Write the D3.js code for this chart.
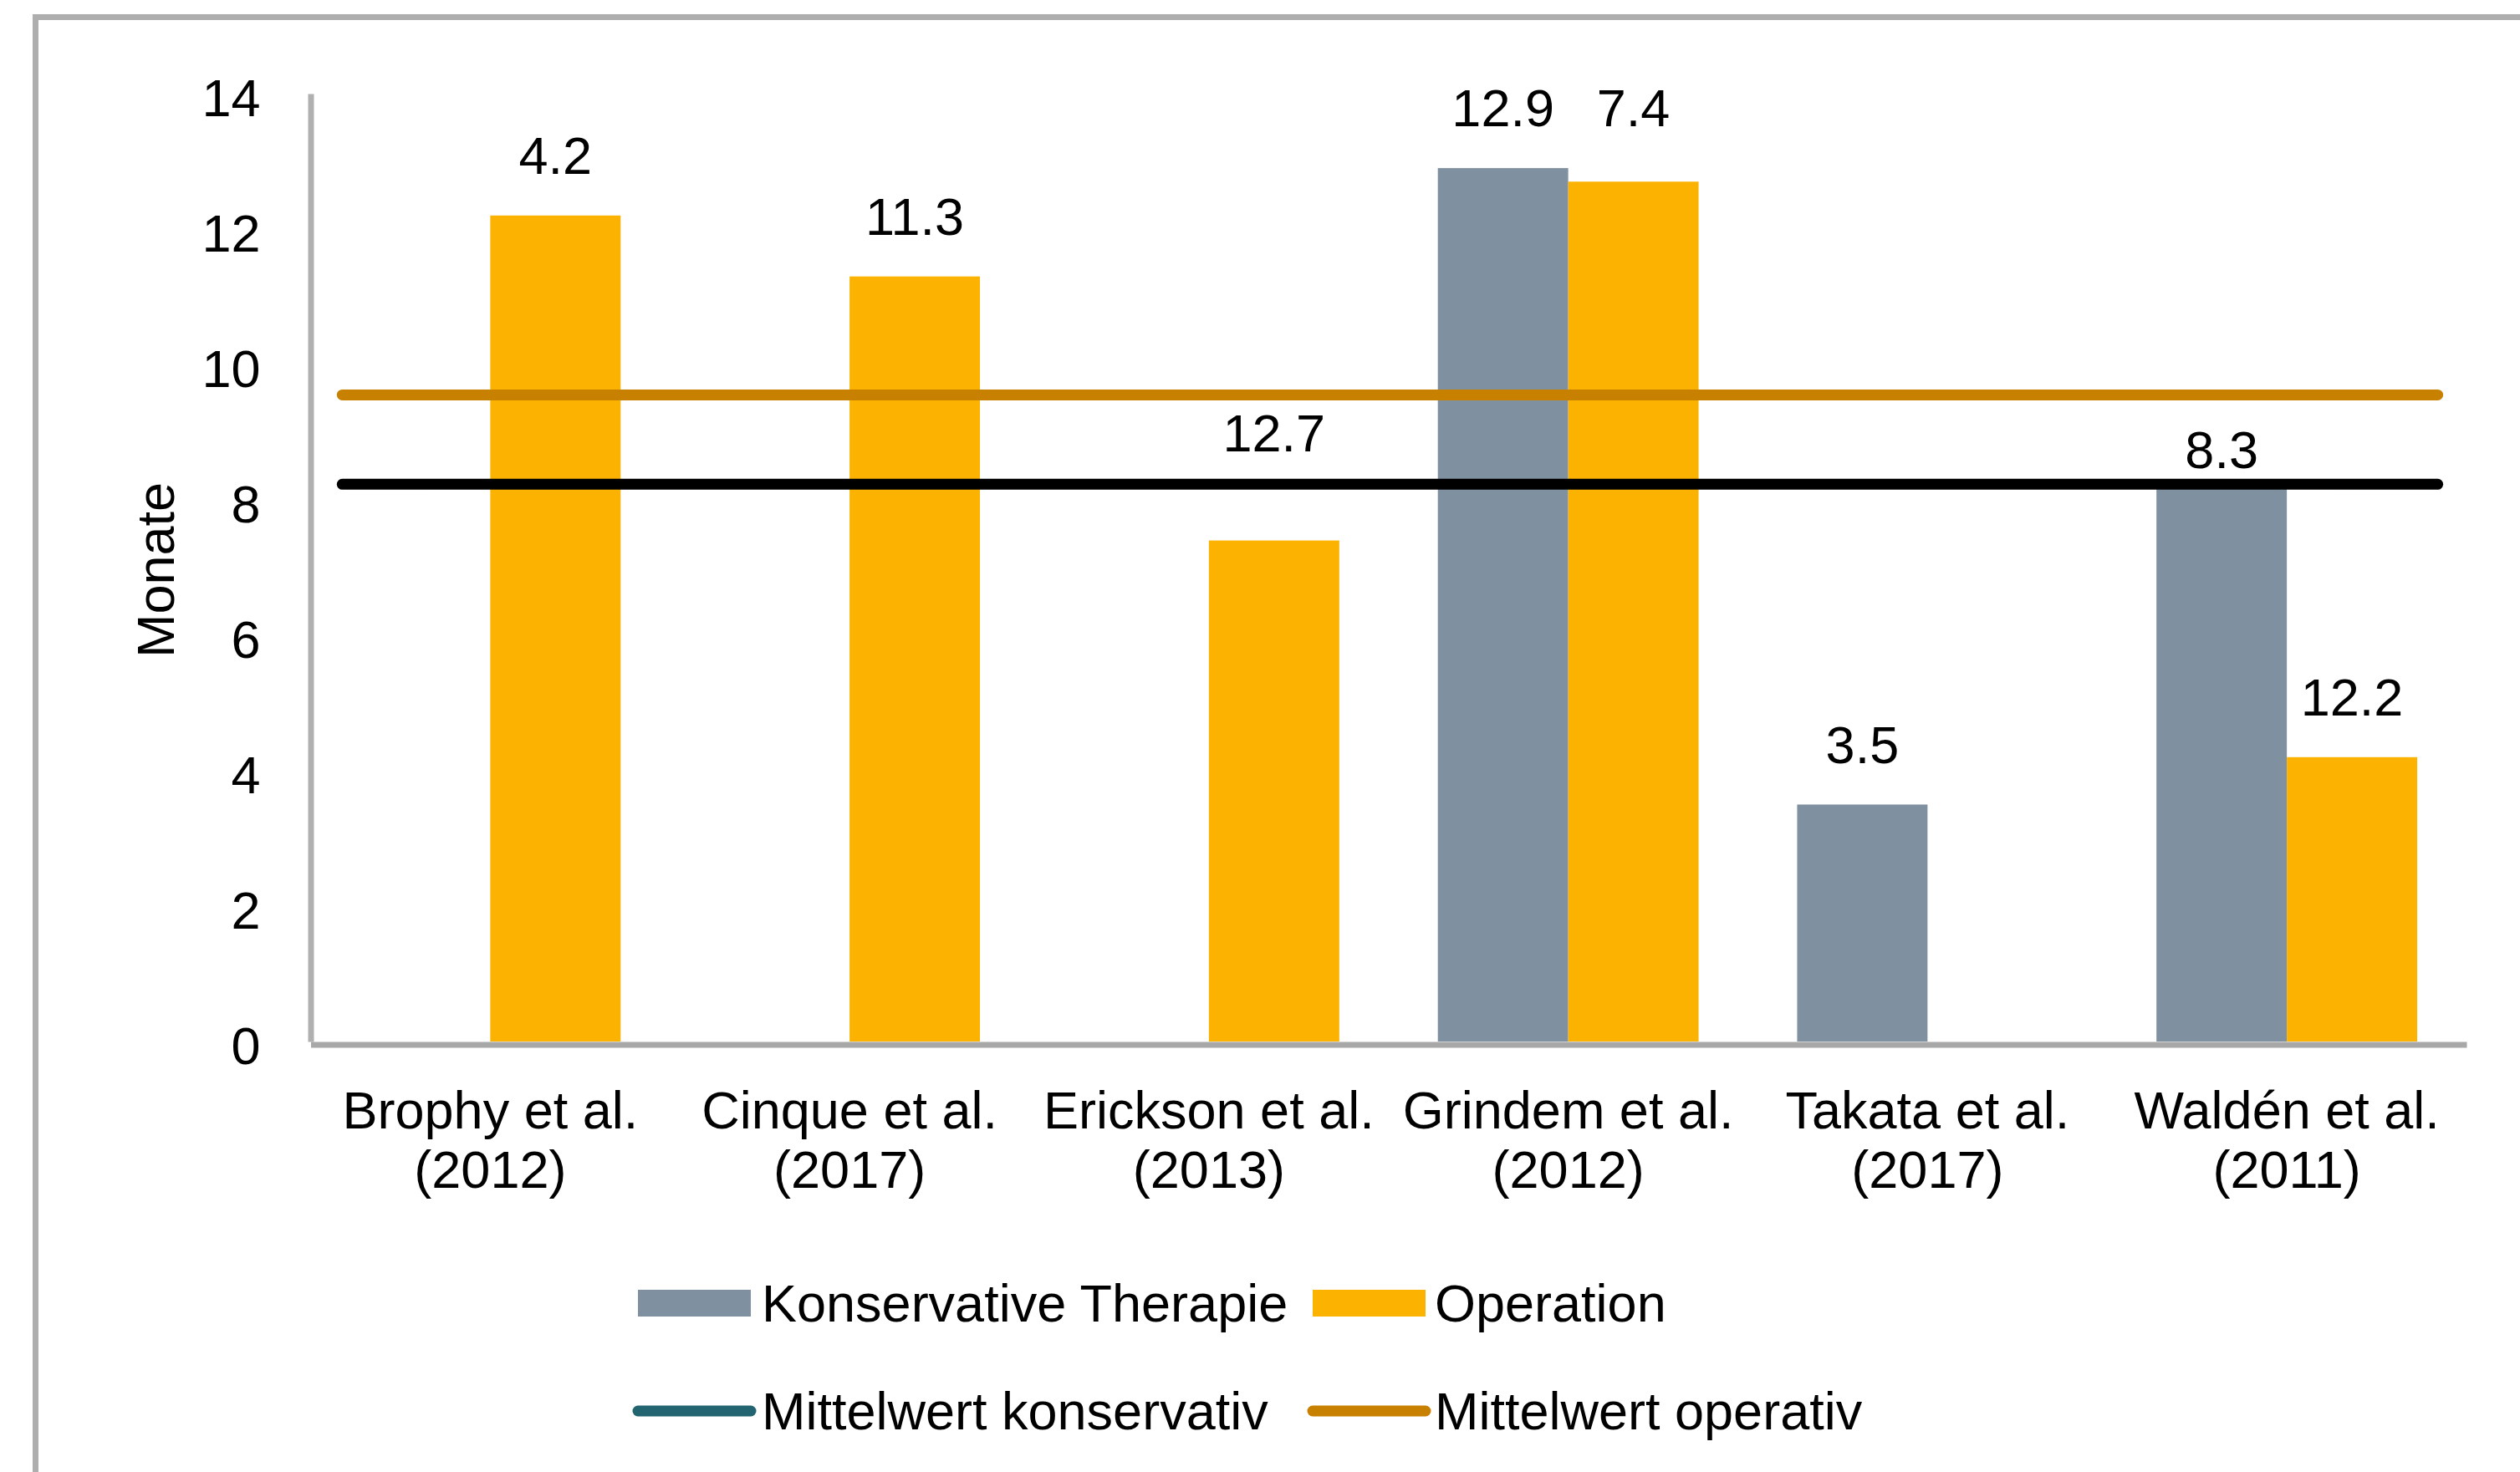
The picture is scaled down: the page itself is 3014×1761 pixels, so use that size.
<!DOCTYPE html>
<html><head><meta charset="utf-8">
<script src="https://cdn.jsdelivr.net/npm/d3@7/dist/d3.min.js"></script>
<style>
body{margin:0;background:#fff;}
svg{display:block;}
text{font-family:"Liberation Sans",Arial,sans-serif;fill:#000;}
</style>
</head><body><svg id="c" width="3014" height="1761"></svg>
<script>
// ---- data ----
const categories = [["Brophy et al.","(2012)"],["Cinque et al.","(2017)"],["Erickson et al.","(2013)"],["Grindem et al.","(2012)"],["Takata et al.","(2017)"],["Waldén et al.","(2011)"]];
const konservativ = [null,null,null,12.9,3.5,8.3];
const operation   = [12.2,11.3,7.4,12.7,null,4.2];
// data labels as printed in the picture
const konsLabels = ["","","","12.9","3.5","8.3"];
const opLabels   = ["4.2","11.3","12.7","7.4","","12.2"];
// value at which each label is anchored (labels moved manually in original)
const konsLabelAnchor = [null,null,null,12.9,3.5,7.85];
const opLabelAnchor   = [12.2,11.3,8.1,12.9,null,4.2];
const meanKonservativ = 8.23;
const meanOperativ = 9.55;
const yTicks = [0,2,4,6,8,10,12,14];
const seriesNames = ["Konservative Therapie","Operation"];
const lineNames = ["Mittelwert konservativ","Mittelwert operativ"];
const yTitle = "Monate";

// ---- styles ----
const colKons = "#7F90A0", colOp = "#FBB200", colMeanOp = "#C88000", colMeanKons = "#000000", colLegKons = "#22646F";
const FS = 63;

const svg = d3.select("#c");
// outer border
svg.append("rect").attr("x",42.5).attr("y",20.5).attr("width",3100).attr("height",1900)
  .attr("fill","none").attr("stroke","#AEAEAE").attr("stroke-width",7);

const L = 371.5, R = 2950, T = 112, B = 1246;
const x = d3.scaleBand().domain(d3.range(categories.length)).range([L,R]).padding(0);
const xs = d3.scaleBand().domain(["k","o"]).range([0,x.bandwidth()]).paddingInner(0).paddingOuter(0.378);
const y = d3.scaleLinear().domain([0,14]).range([B,T]);

// bars
const g = svg.append("g");
const rows = d3.range(categories.length);
g.selectAll(".bk").data(rows.filter(i=>konservativ[i]!=null)).join("rect")
  .attr("x",i=>x(i)+xs("k")).attr("width",xs.bandwidth())
  .attr("y",i=>y(konservativ[i])).attr("height",i=>y(0)-y(konservativ[i])).attr("fill",colKons);
g.selectAll(".bo").data(rows.filter(i=>operation[i]!=null)).join("rect")
  .attr("x",i=>x(i)+xs("o")).attr("width",xs.bandwidth())
  .attr("y",i=>y(operation[i])).attr("height",i=>y(0)-y(operation[i])).attr("fill",colOp);

// axes
const yAxis = d3.axisLeft(y).tickValues(yTicks).tickSize(0).tickSizeOuter(0).tickPadding(60).tickFormat(d3.format("d"));
const ya = svg.append("g").attr("transform",`translate(${L},0)`).call(yAxis);
ya.select(".domain").attr("stroke","#B0B0B0").attr("stroke-width",7);
ya.selectAll("text").attr("font-size",FS).attr("dy","0.42em").attr("font-family","Liberation Sans, Arial, sans-serif").attr("fill","#000");

const xAxis = d3.axisBottom(x).tickSize(0).tickSizeOuter(0).tickFormat(()=> "");
const xa = svg.append("g").attr("transform",`translate(0,${B+3.5})`).call(xAxis);
xa.select(".domain").attr("stroke","#A8A8A8").attr("stroke-width",7);
xa.selectAll(".tick text").remove();
xa.selectAll(".tick").append("text").attr("text-anchor","middle").attr("font-size",FS)
  .attr("font-family","Liberation Sans, Arial, sans-serif").attr("fill","#000")
  .each(function(i){
    const t = d3.select(this);
    t.append("tspan").attr("x",0).attr("y",100).text(categories[i][0]);
    t.append("tspan").attr("x",0).attr("y",171).text(categories[i][1]);
  });

// mean lines
const lx0 = L + x.bandwidth()*0.088, lx1 = R - x.bandwidth()*0.08;
svg.append("line").attr("x1",lx0).attr("x2",lx1).attr("y1",y(meanOperativ)).attr("y2",y(meanOperativ))
  .attr("stroke",colMeanOp).attr("stroke-width",13).attr("stroke-linecap","round");
svg.append("line").attr("x1",lx0).attr("x2",lx1).attr("y1",y(meanKonservativ)).attr("y2",y(meanKonservativ))
  .attr("stroke",colMeanKons).attr("stroke-width",13).attr("stroke-linecap","round");

// data labels
const lab = svg.append("g").attr("font-size",FS).attr("text-anchor","middle");
rows.forEach(i=>{
  if (konsLabels[i]) lab.append("text").attr("x",x(i)+xs("k")+xs.bandwidth()/2).attr("y",y(konsLabelAnchor[i])-50).text(konsLabels[i]);
  if (opLabels[i]) lab.append("text").attr("x",x(i)+xs("o")+xs.bandwidth()/2).attr("y",y(opLabelAnchor[i])-50).text(opLabels[i]);
});

// y title
svg.append("text").attr("transform","translate(208,682) rotate(-90)").attr("text-anchor","middle")
  .attr("font-size",FS).text(yTitle);

// legend
const leg = svg.append("g").attr("font-size",FS);
const legItems = [
  {type:"rect", color:colKons, name:seriesNames[0], sx:763, tx:911, cy:1559},
  {type:"rect", color:colOp, name:seriesNames[1], sx:1570, tx:1716, cy:1559},
  {type:"line", color:colLegKons, name:lineNames[0], sx:763, tx:911, cy:1688},
  {type:"line", color:colMeanOp, name:lineNames[1], sx:1570, tx:1716, cy:1688}
];
legItems.forEach(d=>{
  if (d.type==="rect") leg.append("rect").attr("x",d.sx).attr("y",d.cy-16).attr("width",135).attr("height",32).attr("fill",d.color);
  else leg.append("line").attr("x1",d.sx).attr("x2",d.sx+135).attr("y1",d.cy).attr("y2",d.cy)
        .attr("stroke",d.color).attr("stroke-width",13).attr("stroke-linecap","round");
  leg.append("text").attr("x",d.tx).attr("y",d.cy+22).text(d.name);
});
</script>
</body></html>
